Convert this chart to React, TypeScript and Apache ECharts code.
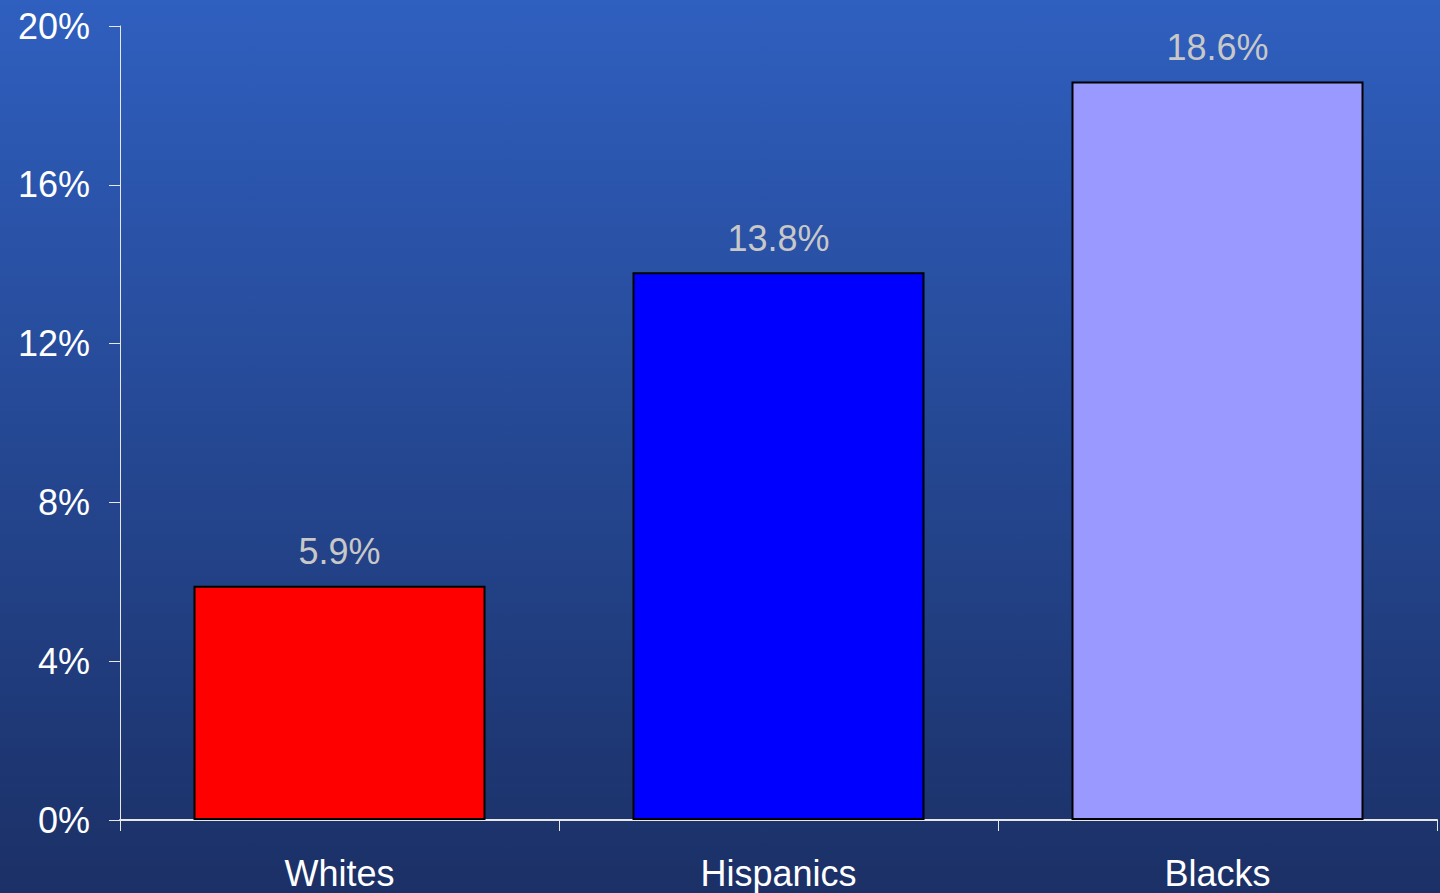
import React, { useEffect, useRef } from "react";
import * as echarts from "echarts";

const categories = ["Whites", "Hispanics", "Blacks"];
const values = [5.9, 13.8, 18.6];
const barColors = ["#ff0000", "#0000ff", "#9999ff"];
const yTicks = { min: 0, max: 20, interval: 4 };

export default function App() {
  const ref = useRef<HTMLDivElement>(null);
  useEffect(() => {
    if (!ref.current) return;
    const chart = echarts.init(ref.current, null, { renderer: "svg" });
    chart.setOption({
      animation: false,
      backgroundColor: new echarts.graphic.LinearGradient(0, 0, 0, 1, [
        { offset: 0, color: "#2f5fbf" },
        { offset: 1, color: "#1b3066" },
      ]),
      grid: { left: 120, right: 3, top: 26, bottom: 73, containLabel: false },
      xAxis: {
        type: "category",
        data: categories,
        boundaryGap: true,
        axisLine: { lineStyle: { color: "#e8e8e8", width: 2 } },
        axisTick: { show: true, length: 11, lineStyle: { color: "#e8e8e8", width: 1 } },
        axisLabel: {
          color: "#ffffff",
          fontSize: 36,
          fontFamily: "Liberation Sans, Arial, sans-serif",
          margin: 35,
        },
      },
      yAxis: {
        type: "value",
        min: yTicks.min,
        max: yTicks.max,
        interval: yTicks.interval,
        splitLine: { show: false },
        axisLine: { show: true, lineStyle: { color: "#e8e8e8", width: 1 } },
        axisTick: { show: true, length: 11, lineStyle: { color: "#e8e8e8" } },
        axisLabel: {
          color: "#ffffff",
          fontSize: 36,
          fontFamily: "Liberation Sans, Arial, sans-serif",
          margin: 30,
          formatter: "{value}%",
        },
      },
      series: [
        {
          type: "bar",
          barWidth: 292,
          data: values.map((v, i) => ({
            value: v,
            itemStyle: { color: barColors[i], borderColor: "#000000", borderWidth: 2 },
          })),
          label: {
            show: true,
            position: "top",
            distance: 16,
            color: "#c8c8c8",
            fontSize: 36,
            fontFamily: "Liberation Sans, Arial, sans-serif",
            formatter: (p: any) => p.value.toFixed(1) + "%",
          },
        },
      ],
    });
    return () => chart.dispose();
  }, []);
  return (
    <div
      ref={ref}
      style={{ position: "fixed", left: 0, top: 0, width: 1440, height: 893 }}
    />
  );
}
